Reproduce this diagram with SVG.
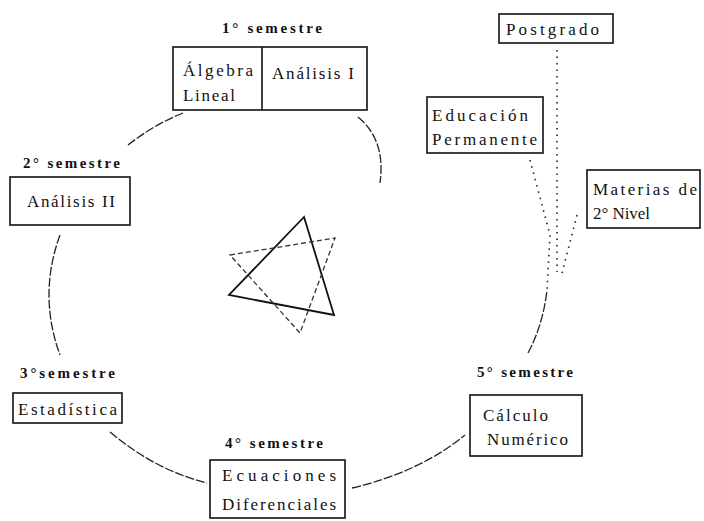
<svg xmlns="http://www.w3.org/2000/svg" width="704" height="521" viewBox="0 0 704 521">
<style>
.box{fill:#fff;stroke:#111;stroke-width:1.6}
.t{font-family:"Liberation Serif","Times New Roman",serif;font-size:17px;fill:#111}
.s{font-family:"Liberation Serif","Times New Roman",serif;font-size:15px;font-weight:bold;fill:#111}
.arc{fill:none;stroke:#222;stroke-width:1.3;stroke-dasharray:9 2}
.dot{fill:none;stroke:#222;stroke-width:1.6;stroke-dasharray:1.5 5}
</style>
<rect width="704" height="521" fill="#fff"/>
<g id="connectors">
<path class="arc" d="M183,113 Q155,124 128,145"/>
<path class="arc" d="M358,117 Q386,140 380,183"/>
<path class="arc" d="M60,235 Q38,295 60,355"/>
<path class="arc" d="M110,432 Q155,470 207,483"/>
<path class="arc" d="M352,488 Q420,472 465,435"/>
<path class="arc" d="M528,353 Q543,325 547,290"/>
<path class="dot" d="M557,50 L557,272"/>
<path class="dot" d="M530,160 L550,235 L547,290"/>
<path class="dot" d="M577,215 L562,273"/>
</g>
<g id="star">
<polygon points="304,217 229,295 334,315" fill="none" stroke="#111" stroke-width="1.8"/>
<polygon points="230,255 335,238 300,333" fill="none" stroke="#333" stroke-width="1.3" stroke-dasharray="5 3"/>
</g>
<g id="sem1">
<text class="s" x="222" y="33" textLength="100" lengthAdjust="spacing">1° semestre</text>
<rect class="box" x="173" y="47" width="194" height="63"/>
<line x1="262" y1="47" x2="262" y2="110" stroke="#111" stroke-width="1.6"/>
</g>
<g id="algebra">
<text class="t" x="183" y="76" textLength="70" lengthAdjust="spacing">Álgebra</text>
<text class="t" x="183" y="101" textLength="52" lengthAdjust="spacing">Lineal</text>
</g>
<g id="analisis1">
<text class="t" x="272" y="79" textLength="82" lengthAdjust="spacing">Análisis I</text>
</g>
<g id="analisis2">
<text class="s" x="23" y="168" textLength="97" lengthAdjust="spacing">2° semestre</text>
<rect class="box" x="10" y="177" width="120" height="48"/>
<text class="t" x="27" y="207" textLength="88" lengthAdjust="spacing">Análisis II</text>
</g>
<g id="estadistica">
<text class="s" x="20" y="378" textLength="95" lengthAdjust="spacing">3°semestre</text>
<rect class="box" x="13" y="393" width="109" height="30"/>
<text class="t" x="18" y="415" textLength="99" lengthAdjust="spacing">Estadística</text>
</g>
<g id="ecuaciones">
<text class="s" x="225" y="448" textLength="98" lengthAdjust="spacing">4° semestre</text>
<rect class="box" x="210" y="460" width="135" height="58"/>
<text class="t" x="222" y="481" textLength="114" lengthAdjust="spacing">Ecuaciones</text>
<text class="t" x="222" y="510" textLength="114" lengthAdjust="spacing">Diferenciales</text>
</g>
<g id="calculo">
<text class="s" x="477" y="377" textLength="96" lengthAdjust="spacing">5° semestre</text>
<rect class="box" x="470" y="395" width="112" height="61"/>
<text class="t" x="483" y="421" textLength="65" lengthAdjust="spacing">Cálculo</text>
<text class="t" x="487" y="445" textLength="81" lengthAdjust="spacing">Numérico</text>
</g>
<g id="postgrado">
<rect class="box" x="499" y="14" width="114" height="29"/>
<text class="t" x="506" y="35" textLength="93" lengthAdjust="spacing">Postgrado</text>
</g>
<g id="educacion">
<rect class="box" x="427" y="97" width="116" height="56"/>
<text class="t" x="432" y="121" textLength="96" lengthAdjust="spacing">Educación</text>
<text class="t" x="432" y="145" textLength="105" lengthAdjust="spacing">Permanente</text>
</g>
<g id="materias">
<rect class="box" x="587" y="170" width="113" height="58"/>
<text class="t" x="593" y="195" textLength="104" lengthAdjust="spacing">Materias de</text>
<text class="t" x="593" y="219" textLength="57" lengthAdjust="spacing">2° Nivel</text>
</g>
</svg>
